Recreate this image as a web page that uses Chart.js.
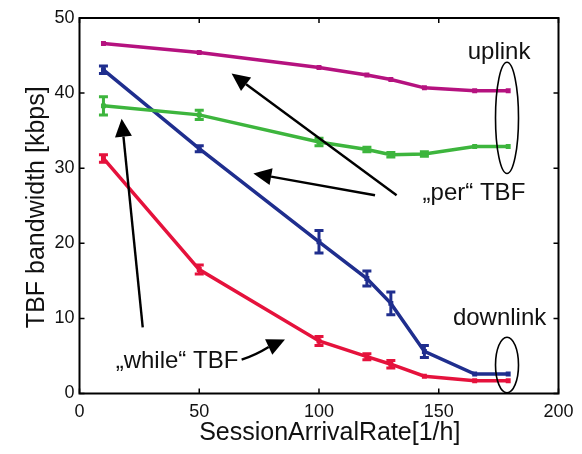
<!DOCTYPE html>
<html><head><meta charset="utf-8">
<script src="https://cdn.jsdelivr.net/npm/chart.js@4/dist/chart.umd.min.js"></script>
<style>html,body{margin:0;padding:0;background:#fff}#wrap{width:582px;height:454px}</style>
</head><body><div id="wrap"><canvas id="c" width="582" height="454"></canvas></div>
<script>
const rates = [10, 50, 100, 120, 130, 144, 165, 179];
const uplinkPer = [46.6, 45.4, 43.4, 42.4, 41.8, 40.7, 40.3, 40.3];
const uplinkWhile = [38.3, 37.1, 33.5, 32.5, 31.8, 31.9, 32.9, 32.9];
const downlinkPer = [43.1, 32.6, 20.2, 15.3, 12.0, 5.6, 2.6, 2.6];
const downlinkWhile = [31.3, 16.5, 7.0, 4.9, 3.9, 2.3, 1.7, 1.7];
const errUplinkPer = [0.2, 0.2, 0.2, 0.2, 0.2, 0.2, 0.2, 0.2];
const errUplinkWhile = [1.2, 0.6, 0.5, 0.3, 0.3, 0.3, 0.2, 0.2];
const errDownlinkPer = [0.5, 0.4, 1.5, 1.0, 1.5, 0.8, 0.2, 0.2];
const errDownlinkWhile = [0.5, 0.6, 0.6, 0.4, 0.5, 0.2, 0.2, 0.2];
const xTicks = [0, 50, 100, 150, 200];
const yTicks = [0, 10, 20, 30, 40, 50];
const xTitle = 'SessionArrivalRate[1/h]';
const yTitle = 'TBF bandwidth [kbps]';

const FONT = "'Liberation Sans', Arial, sans-serif";
const cMag = '#B5127F', cGreen = '#3DB53D', cBlue = '#1F2E8E', cRed = '#E5123C';

function mk(label, data, err, color) {
  return {label, data: rates.map((x, i) => ({x, y: data[i]})), err,
    borderColor: color, backgroundColor: color, borderWidth: 3.5,
    pointStyle: 'rect', pointRadius: 3.5, pointBorderWidth: 0, tension: 0};
}

const frame = {
  id: 'frame',
  afterDatasetsDraw(chart) {
    const {ctx, chartArea: a, scales: {x, y}} = chart;
    ctx.save();
    // error bars
    chart.data.datasets.forEach(ds => {
      ctx.strokeStyle = ds.borderColor; ctx.lineWidth = 3;
      ds.data.forEach((p, i) => {
        const e = ds.err[i]; if (e < 0.3) return;
        const px = x.getPixelForValue(p.x);
        const y1 = y.getPixelForValue(p.y - e), y2 = y.getPixelForValue(p.y + e);
        ctx.beginPath();
        ctx.moveTo(px, y1); ctx.lineTo(px, y2);
        ctx.moveTo(px - 4.5, y1); ctx.lineTo(px + 4.5, y1);
        ctx.moveTo(px - 4.5, y2); ctx.lineTo(px + 4.5, y2);
        ctx.stroke();
      });
    });
    // box and inward ticks
    ctx.strokeStyle = '#000'; ctx.lineWidth = 2;
    ctx.strokeRect(a.left, a.top, a.right - a.left, a.bottom - a.top);
    ctx.lineWidth = 1.5;
    ctx.beginPath();
    xTicks.forEach(v => { const px = x.getPixelForValue(v);
      ctx.moveTo(px, a.bottom); ctx.lineTo(px, a.bottom - 5);
      ctx.moveTo(px, a.top); ctx.lineTo(px, a.top + 5); });
    yTicks.forEach(v => { const py = y.getPixelForValue(v);
      ctx.moveTo(a.left, py); ctx.lineTo(a.left + 5, py);
      ctx.moveTo(a.right, py); ctx.lineTo(a.right - 5, py); });
    ctx.stroke();
    // axis titles
    ctx.fillStyle = '#111'; ctx.font = '25px ' + FONT;
    ctx.textBaseline = 'middle'; ctx.textAlign = 'center';
    ctx.fillText(xTitle, x.getPixelForValue(104.5), 433);
    ctx.save(); ctx.translate(37, y.getPixelForValue(24.8)); ctx.rotate(-Math.PI / 2);
    ctx.fillText(yTitle, 0, 0); ctx.restore();
    // annotations (placed in data coordinates)
    const P = (dx, dy) => [x.getPixelForValue(dx), y.getPixelForValue(dy)];
    function arrow(t0, t1, bend) {
      const [x0, y0] = P(...t0), [x1, y1] = P(...t1);
      const ang = Math.atan2(y1 - y0, x1 - x0);
      const L = 18, W = 8.5;
      const bx = x1 - L * Math.cos(ang), by = y1 - L * Math.sin(ang);
      ctx.strokeStyle = '#000'; ctx.lineWidth = 2.4;
      ctx.beginPath(); ctx.moveTo(x0, y0);
      if (bend) ctx.quadraticCurveTo((x0 + bx) / 2 + bend[0], (y0 + by) / 2 + bend[1], bx, by);
      else ctx.lineTo(bx, by);
      ctx.stroke();
      ctx.fillStyle = '#000';
      ctx.beginPath(); ctx.moveTo(x1, y1);
      ctx.lineTo(bx + W * Math.sin(ang), by - W * Math.cos(ang));
      ctx.lineTo(bx - W * Math.sin(ang), by + W * Math.cos(ang));
      ctx.closePath(); ctx.fill();
    }
    arrow([132.4, 26.4], [63.5, 42.6]);
    arrow([123.4, 26.4], [72.6, 29.3]);
    arrow([26.4, 8.8], [17.6, 36.6]);
    arrow([67.7, 4.5], [85.8, 7.2], [0, 2]);
    function ell(cx, cy, rxp, ryData) {
      const [px, py] = P(cx, cy);
      const ry = Math.abs(y.getPixelForValue(cy + ryData) - py);
      ctx.strokeStyle = '#000'; ctx.lineWidth = 1.6;
      ctx.beginPath(); ctx.ellipse(px, py, rxp, ry, 0, 0, Math.PI * 2); ctx.stroke();
    }
    ell(178.5, 36.7, 11.5, 7.4);
    ell(178.5, 3.8, 11.5, 3.7);
    ctx.fillStyle = '#111'; ctx.font = '24px ' + FONT;
    const txt = (s, dx, dy) => { const [px, py] = P(dx, dy); ctx.fillText(s, px, py); };
    txt('uplink', 175.2, 45.4);
    txt('downlink', 175.4, 10.0);
    txt('\u201E' + 'per' + '\u201C TBF', 164.7, 26.7);
    txt('\u201E' + 'while' + '\u201C TBF', 40.7, 4.3);
    ctx.restore();
  }
};

new Chart(document.getElementById('c'), {
  type: 'line',
  data: {datasets: [
    mk('uplink per', uplinkPer, errUplinkPer, cMag),
    mk('uplink while', uplinkWhile, errUplinkWhile, cGreen),
    mk('downlink per', downlinkPer, errDownlinkPer, cBlue),
    mk('downlink while', downlinkWhile, errDownlinkWhile, cRed)
  ]},
  options: {
    responsive: false, animation: false, devicePixelRatio: 1,
    layout: {padding: {left: 0, right: 23.5, top: 18, bottom: 0}},
    plugins: {legend: {display: false}, tooltip: {enabled: false}},
    scales: {
      x: {type: 'linear', min: 0, max: 200,
        afterBuildTicks: s => { s.ticks = xTicks.map(v => ({value: v})); },
        afterFit: s => { s.height = 60.5; },
        grid: {display: false, drawTicks: false}, border: {display: false},
        ticks: {color: '#111', padding: 8, font: {family: FONT, size: 18}},
        title: {display: false, text: xTitle}},
      y: {type: 'linear', min: 0, max: 50,
        afterBuildTicks: s => { s.ticks = yTicks.map(v => ({value: v})); },
        afterFit: s => { s.width = 79.5; },
        grid: {display: false, drawTicks: false}, border: {display: false},
        ticks: {color: '#111', padding: 5, font: {family: FONT, size: 18}},
        title: {display: false, text: yTitle}}
    }
  },
  plugins: [frame]
});
</script></body></html>
